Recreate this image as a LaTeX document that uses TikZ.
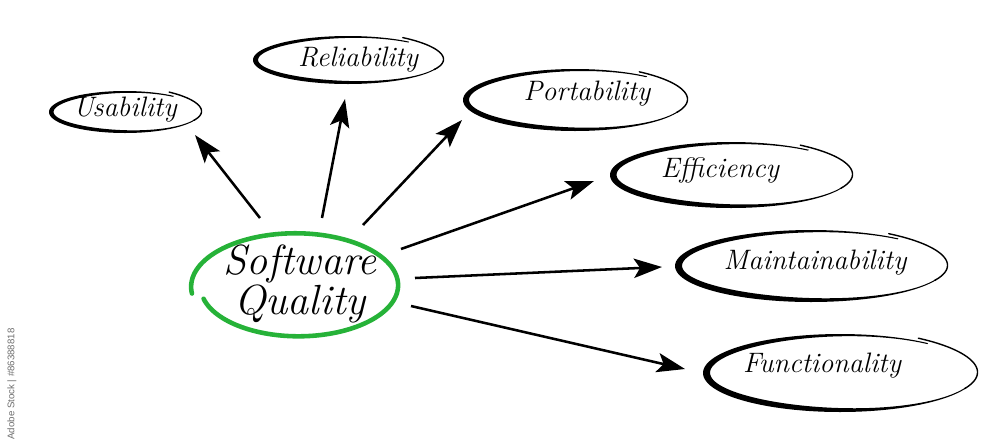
\documentclass[tikz,border=0pt]{standalone}
\usepackage{fontspec}
\usetikzlibrary{arrows.meta}
\newfontfamily\wmfont{Liberation Sans}
\definecolor{sqgreen}{RGB}{38,178,56}
\definecolor{wmgray}{RGB}{110,110,110}
\tikzset{
  arr/.style={line width=1.45pt, -{Stealth[length=16pt,width=11pt,inset=3.5pt]}},
  lbl/.style={font=\fontsize{16}{18}\selectfont\itshape, inner sep=0pt},
  biglbl/.style={font=\fontsize{24}{30}\selectfont\itshape, inner sep=0pt, align=center},
}
% brush ellipse: cx, cy, a, b, max extra thickness (px)
\newcommand\brushell[5]{%
  \fill[black] plot[domain=50:338,samples=90,variable=\t]
      ({#1+#3*cos(\t)},{#2-#4*sin(\t)})
    -- plot[domain=338:50,samples=90,variable=\t]
      ({#1+(#3-1.2-#5*(sin(((\t-50)/288)*180))^2)*cos(\t)},{#2-(#4-1.2-#5*(sin(((\t-50)/288)*180))^2)*sin(\t)})
    -- cycle;
  \draw[black, line width=0.8pt, line cap=round] plot[domain=-24:56,samples=40,variable=\t]
      ({#1+(#3-0.6+3.6*(\t+24)/80)*cos(\t)},{#2-(#4-0.6+3.6*(\t+24)/80)*sin(\t)});
}
\begin{document}
\begin{tikzpicture}[x=0.02cm,y=-0.02cm]
\useasboundingbox (0,0) rectangle (1000,447);
\fill[white] (0,0) rectangle (1000,447);

% outer ellipses
\brushell{125}{112}{76}{21}{3.5}
\brushell{348}{60}{95}{24}{4}
\brushell{575}{100}{112}{31}{5}
\brushell{731}{175}{121}{33}{5.5}
\brushell{811}{266}{136}{36}{6}
\brushell{840}{373}{137}{39}{6}

% labels
\node[lbl] (u) at (125,110) {Usability};
\node[lbl] (r) at (358,60) {Reliability};
\node[lbl] (p) at (587,94) {Portability};
\node[lbl] (e) at (720,170) {Efficiency};
\node[lbl] (m) at (815,263) {Maintainability};
\node[lbl] (f) at (822,366) {Functionality};

% central green ellipse
\draw[sqgreen, line width=2.6pt, line cap=round] plot[domain=195:548,samples=140,variable=\t]
  ({297+104*(0.93+0.09*(\t-195)/353)*cos(\t)},{286-53*(0.93+0.09*(\t-195)/353)*sin(\t)});
\node[biglbl] (sq) at (300,284) {Software\\[-7pt]Quality};

% connector end points
\coordinate (su) at (260,218); \coordinate (tu) at (195,135);
\coordinate (sr) at (322,218); \coordinate (tr) at (345,99);
\coordinate (sp) at (363,225); \coordinate (tp) at (462,120);
\coordinate (se) at (401,249); \coordinate (te) at (594,181);
\coordinate (sm) at (415,278); \coordinate (tm) at (662,267);
\coordinate (sf) at (411,306); \coordinate (tf) at (685,369);

\draw[arr] (su) -- (tu);
\draw[arr] (sr) -- (tr);
\draw[arr] (sp) -- (tp);
\draw[arr] (se) -- (te);
\draw[arr] (sm) -- (tm);
\draw[arr] (sf) -- (tf);

% stock id on the left edge
\node[rotate=90, font=\wmfont\fontsize{5.5}{6}\selectfont, text=wmgray, inner sep=0pt] (wm) at (12,384) {Adobe Stock | \#86388818};
\end{tikzpicture}
\end{document}
